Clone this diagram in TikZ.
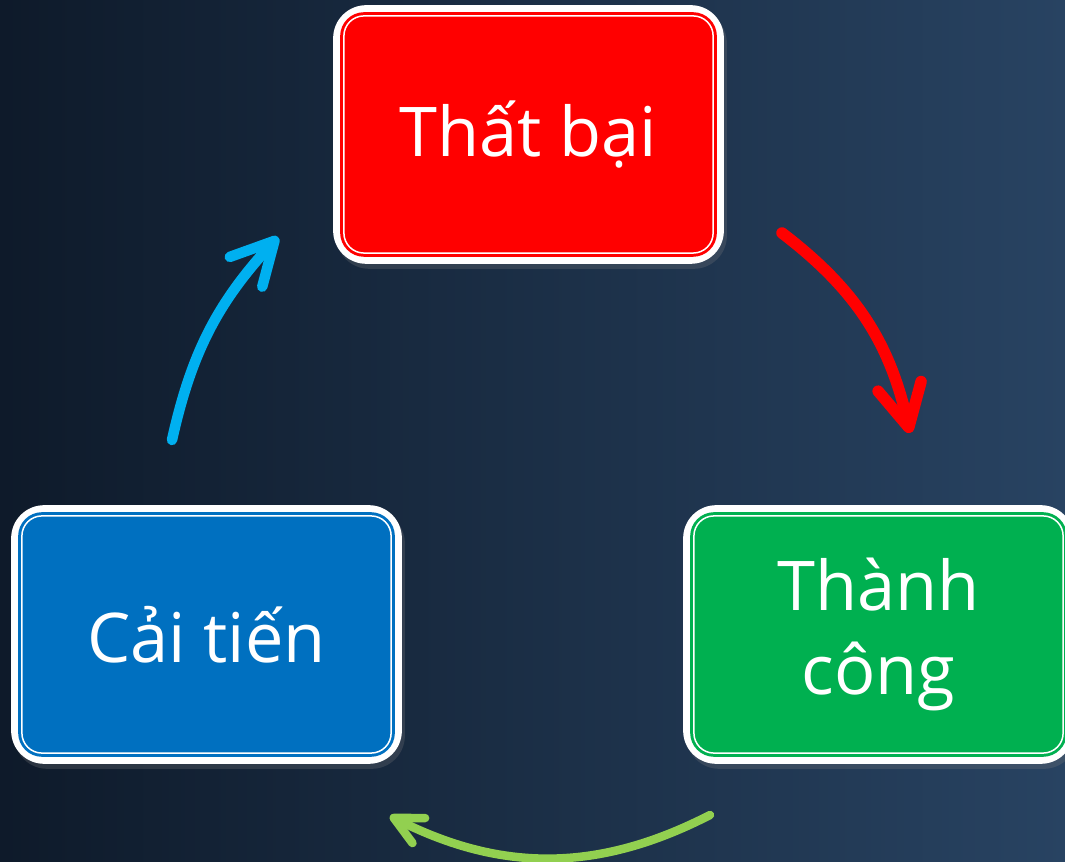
\documentclass[tikz,border=0pt]{standalone}
\usepackage{fontspec}
\setmainfont{Open Sans}
\usetikzlibrary{arrows.meta,backgrounds,shadows}

\definecolor{bgleft}{RGB}{14,26,42}
\definecolor{bgright}{RGB}{40,67,98}
\definecolor{failred}{RGB}{255,0,0}
\definecolor{wingreen}{RGB}{0,176,80}
\definecolor{fixblue}{RGB}{0,112,192}
\definecolor{arrowred}{RGB}{255,0,0}
\definecolor{arrowgreen}{RGB}{146,208,80}
\definecolor{arrowblue}{RGB}{0,176,240}

\tikzset{
  stagebox/.style={draw=white, line width=0.15mm, rounded corners=2mm,
    minimum width=3.69cm, minimum height=2.37cm, align=center,
    text=white, font=\fontsize{19.5}{24}\selectfont},
  cyclearrow/.style={line width=#1, line cap=round},
}
% white thick-thin frame drawn behind a stage box
\newcommand\stageframe[2]{%
  \begin{scope}[on background layer]
    \fill[white, rounded corners=3.3mm, drop shadow={opacity=0.25, shadow xshift=0.3mm, shadow yshift=-0.5mm}]
      ([shift={(-1mm,-1mm)}]#1.south west) rectangle ([shift={(1mm,1mm)}]#1.north east);
    \fill[#2, rounded corners=2.4mm]
      ([shift={(-0.3mm,-0.3mm)}]#1.south west) rectangle ([shift={(0.3mm,0.3mm)}]#1.north east);
  \end{scope}}

\begin{document}
\begin{tikzpicture}[x=0.01cm, y=0.01cm]
		%%%%% BACKGROUND %%%%%
		\useasboundingbox (0, 0) rectangle (1065, -862);
		\begin{scope}[on background layer]
			\shade[left color=bgleft, right color=bgright] (0, 0) rectangle (1065, -862);
		\end{scope}
		
		%%%%% STAGES %%%%%
		\node[stagebox, fill=failred] (fail) at (528.5, -134.5) {Thất bại};
		\stageframe{fail}{failred}
		
		\node[stagebox, fill=wingreen] (win) at (878.5, -634.5) {Thành\\công};
		\stageframe{win}{wingreen}
		
		\node[stagebox, fill=fixblue] (fix) at (206.5, -634.5) {Cải tiến};
		\stageframe{fix}{fixblue}
		
		%%%%% ARROWS %%%%%
		\coordinate (redfrom) at (782, -233);
		\coordinate (redto) at (910, -433);
		\coordinate (greenfrom) at (710, -815);
		\coordinate (greento) at (390, -816);
		\coordinate (bluefrom) at (172, -440);
		\coordinate (blueto) at (278, -237);
		
		\draw[cyclearrow=1.15mm, arrowred, -{Straight Barb[length=4.2mm, width=4.4mm, round]}]
			(redfrom) to[bend left=20] (redto);
		\draw[cyclearrow=0.85mm, arrowgreen, -{Straight Barb[length=2.8mm, width=2.8mm, round]}]
			(greenfrom) to[bend left=27] (greento);
		\draw[cyclearrow=1.05mm, arrowblue, -{Straight Barb[length=4.2mm, width=4.4mm, round]}]
			(bluefrom) to[bend left=15] (blueto);
		%%%%% END %%%%%
	\end{tikzpicture}
\end{document}
